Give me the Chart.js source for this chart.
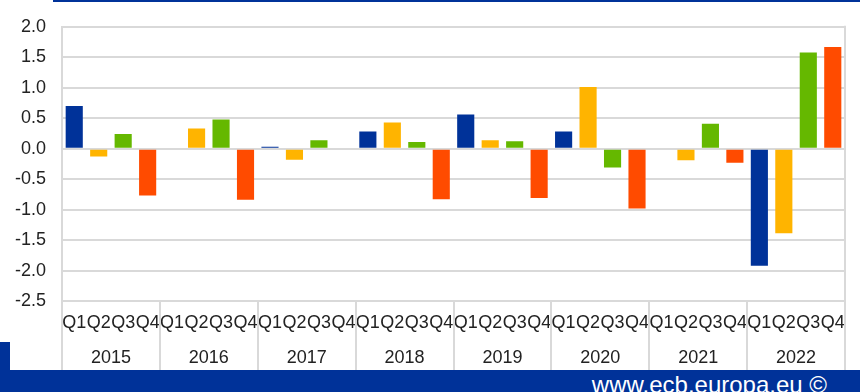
<!DOCTYPE html>
<html>
<head>
<meta charset="utf-8">
<script src="https://cdn.jsdelivr.net/npm/chart.js@4.4.0/dist/chart.umd.min.js"></script>
<style>
  html, body { margin: 0; padding: 0; background: #fff; }
  body { width: 860px; height: 392px; position: relative; overflow: hidden; font-family: "Liberation Sans", Arial, sans-serif; }
  #topRule { position: absolute; left: 53px; top: 0; width: 807px; height: 2px; background: #003299; }
  #wrap { position: absolute; left: 0; top: 0; width: 860px; height: 372px; }
  #footer { position: absolute; left: 0; top: 370px; width: 860px; height: 22px; background: #003299; overflow: hidden; }
  #footer span { position: absolute; right: 33px; top: 1px; color: #fff; font-size: 24px; line-height: 28px; white-space: nowrap; }
  #tab { position: absolute; left: 0; top: 342px; width: 10px; height: 28px; background: #003299; }
</style>
</head>
<body>
<div id="topRule"></div>
<div id="wrap"><canvas id="chart"></canvas></div>
<div id="tab"></div>
<div id="footer"><span>www.ecb.europa.eu ©</span></div>
<script>
const years = ["2015", "2016", "2017", "2018", "2019", "2020", "2021", "2022"];
const quarters = ["Q1", "Q2", "Q3", "Q4"];
// quarterly values, one entry per year
const q1Values = [0.70, 0.00, 0.03, 0.28, 0.56, 0.28, 0.00, -1.92];
const q2Values = [-0.13, 0.33, -0.18, 0.43, 0.14, 1.01, -0.19, -1.39];
const q3Values = [0.24, 0.48, 0.14, 0.11, 0.12, -0.31, 0.41, 1.58];
const q4Values = [-0.77, -0.84, 0.00, -0.83, -0.81, -0.98, -0.23, 1.67];
const yTicks = [2.0, 1.5, 1.0, 0.5, 0.0, -0.5, -1.0, -1.5, -2.0, -2.5];
const quarterColors = ["#003299", "#FFB400", "#65B800", "#FF4B00"];

const GRID = "#d9d9d9";
const FONT = { family: "'Liberation Sans', Arial, sans-serif", size: 18 };

// flatten to one bar per quarter, in time order
const labels = [];
const values = [];
const colors = [];
years.forEach((y, i) => {
  [q1Values, q2Values, q3Values, q4Values].forEach((arr, q) => {
    labels.push(quarters[q]);
    values.push(arr[i]);
    colors.push(quarterColors[q]);
  });
});

// year separators drawn through both label rows, plus right frame line
const yearLines = {
  id: "yearLines",
  afterDraw(chart) {
    const { ctx, chartArea } = chart;
    const bottom = chart.scales.x2.bottom;
    ctx.save();
    ctx.strokeStyle = GRID;
    ctx.lineWidth = 2;
    for (let k = 0; k <= years.length; k++) {
      const px = Math.round(chartArea.left + (chartArea.right - chartArea.left) * k / years.length);
      ctx.beginPath();
      ctx.moveTo(px, k === years.length ? chartArea.top - 1 : chartArea.bottom);
      ctx.lineTo(px, bottom);
      ctx.stroke();
    }
    ctx.restore();
  }
};

new Chart(document.getElementById("chart"), {
  type: "bar",
  data: {
    labels: labels,
    datasets: [{
      data: values,
      backgroundColor: colors,
      borderWidth: 0,
      barPercentage: 0.7,
      categoryPercentage: 1.0
    }]
  },
  options: {
    responsive: true,
    maintainAspectRatio: false,
    animation: false,
    layout: { padding: { top: 23, right: 15, left: 0, bottom: 0 } },
    plugins: {
      legend: { display: false },
      tooltip: { enabled: false }
    },
    scales: {
      y: {
        min: -2.5,
        max: 2.0,
        afterBuildTicks: (scale) => { scale.ticks = yTicks.map(v => ({ value: v })); },
        afterFit: (scale) => { scale.width = 62; },
        grid: { color: GRID, lineWidth: 2, drawTicks: false },
        border: { display: true, color: GRID, width: 2 },
        ticks: {
          color: "#222",
          font: FONT,
          padding: 16,
          callback: (v) => Number(v).toFixed(1)
        }
      },
      x: {
        type: "category",
        offset: true,
        weight: 0,
        afterFit: (scale) => { scale.height = 36; },
        grid: { display: false, drawTicks: false },
        border: { display: false },
        ticks: { color: "#222", font: FONT, padding: 11, autoSkip: false, maxRotation: 0 }
      },
      x2: {
        type: "category",
        labels: years,
        offset: true,
        weight: 1,
        afterFit: (scale) => { scale.height = 35; },
        grid: { display: false, drawTicks: false },
        border: { display: false },
        ticks: { color: "#222", font: FONT, padding: 10, autoSkip: false, maxRotation: 0 }
      }
    }
  },
  plugins: [yearLines]
});
</script>
</body>
</html>
